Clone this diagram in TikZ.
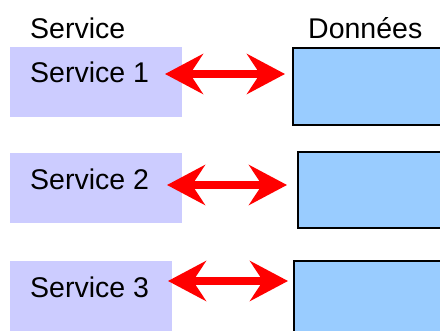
\documentclass[tikz,border=0pt]{standalone}
\usepackage{fontspec}
\setmainfont{Liberation Sans}
\usetikzlibrary{arrows.meta}
\definecolor{servfill}{HTML}{CCCCFF}
\definecolor{datafill}{HTML}{99CCFF}
\definecolor{linkred}{HTML}{FF0000}
\begin{document}
\begin{tikzpicture}[x=1pt,y=-1pt,
  label/.style={inner sep=0pt,anchor=base west,font=\fontsize{28.5}{30}\selectfont},
  servbox/.style={fill=servfill,draw=none},
  databox/.style={fill=datafill,draw=black,line width=2.2pt},
  link/.style={draw=linkred,line width=8pt,
    {Stealth[length=38pt,width=40pt,inset=13pt,fill=linkred]}-{Stealth[length=38pt,width=40pt,inset=13pt,fill=linkred]}}]
  \useasboundingbox (0,0) rectangle (440,331);
  % column headings
  \node[label] (hs) at (30,39) {Service};
  \node[label] (hd) at (308,39) {Données};
  % service blocks
  \fill[servbox] (10,47) rectangle (182,117);
  \fill[servbox] (10,153) rectangle (182,223);
  \fill[servbox] (10,261) rectangle (172,340);
  \node[label] (s1) at (30,83) {Service 1};
  \node[label] (s2) at (30,190) {Service 2};
  \node[label] (s3) at (30,298) {Service 3};
  % data stores
  \draw[databox] (293,48) rectangle (450,125);
  \draw[databox] (298,152) rectangle (450,228);
  \draw[databox] (294,261) rectangle (450,345);
  % two-way links
  \coordinate (l1) at (165,74);  \coordinate (r1) at (285,74);
  \coordinate (l2) at (167,185); \coordinate (r2) at (287,185);
  \coordinate (l3) at (168,281); \coordinate (r3) at (288,281);
  \draw[link] (l1) -- (r1);
  \draw[link] (l2) -- (r2);
  \draw[link] (l3) -- (r3);
\end{tikzpicture}
\end{document}
